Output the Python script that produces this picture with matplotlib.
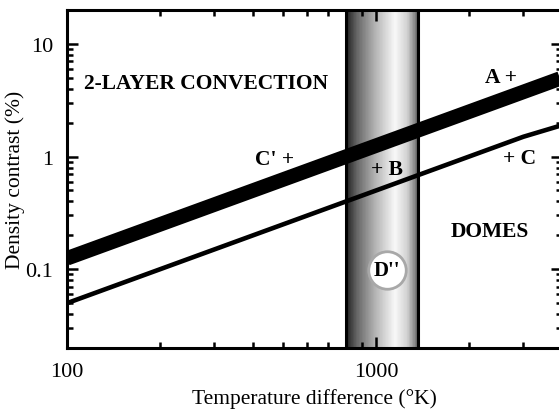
import numpy as np
import matplotlib
matplotlib.use("Agg")
from matplotlib import pyplot as plt
from matplotlib import ticker

plt.rcParams['font.family'] = ['Liberation Serif', 'DejaVu Serif']

# thick band (2-layer / domes boundary) and thin line
temp_thick = [100, 4000]
contrast_thick = [0.125, 5.0]
temp_thin = [100, 3000, 4000]
contrast_thin = [0.05, 1.5, 1.9]
# D'' temperature range
dpp_range = [800, 1370]

fig = plt.figure(figsize=(5.59, 4.10), dpi=100)
ax = fig.add_axes([67/559, 61/410, 495/559, 338/410])
ax.set_xscale('log')
ax.set_yscale('log')
ax.set_xlim(100, 4000)
ax.set_ylim(0.02, 20)

# shaded D'' band: dark edge on the left, light at ~70%, darker again at right
xe = np.geomspace(dpp_range[0], dpp_range[1], 121)
t = np.linspace(0, 1, 120)
shade = np.interp(t, [0, 0.04, 0.15, 0.4, 0.68, 0.85, 0.95, 1.0],
                  [0.05, 0.2, 0.4, 0.7, 0.97, 0.82, 0.55, 0.35])
ax.pcolormesh(xe, [0.02, 20], shade[None, :], cmap='gray', vmin=0, vmax=1,
              shading='flat', zorder=1)
for xv in dpp_range:
    ax.axvline(xv, color='black', lw=2.2, zorder=2)

ax.plot(temp_thick, contrast_thick, color='black', lw=10.5, solid_capstyle='butt', zorder=3)
ax.plot(temp_thin, contrast_thin, color='black', lw=3.3, solid_capstyle='butt', zorder=3)

# D'' marker
ax.plot([1087], [0.099], marker='o', ms=27, mfc='white', mec='#a8a8a8', mew=2, zorder=4)
ax.text(1087, 0.099, "D''", ha='center', va='center', fontsize=15, fontweight='bold', zorder=5)

bold = dict(fontsize=15.5, fontweight='bold', ha='center', va='center', zorder=5)
ax.text(282, 4.5, '2-LAYER CONVECTION', **bold)
ax.text(2540, 5.1, 'A +', **bold)
ax.text(471, 0.96, "C' +", **bold)
ax.text(1087, 0.78, '+ B', **bold)
ax.text(2924, 0.97, '+ C', **bold)
ax.text(2339, 0.22, 'DOMES', **bold)

ax.set_xticks([100, 1000])
ax.set_xticklabels(['100', '1000'])
ax.set_yticks([0.1, 1, 10])
ax.set_yticklabels(['0.1', '1', '10'])
ax.xaxis.set_minor_locator(ticker.LogLocator(subs=np.arange(2, 10)))
ax.yaxis.set_minor_locator(ticker.LogLocator(subs=np.arange(2, 10)))
ax.xaxis.set_minor_formatter(ticker.NullFormatter())
ax.yaxis.set_minor_formatter(ticker.NullFormatter())
ax.tick_params(which='both', direction='in', top=True, right=True, width=1.8, labelsize=16)
ax.tick_params(which='major', length=8, pad=10)
ax.tick_params(which='minor', length=4.5)
for s in ax.spines.values():
    s.set_linewidth(2.2)

ax.set_xlabel('Temperature difference (°K)', fontsize=15.5, labelpad=5)
ax.set_ylabel('Density contrast (%)', fontsize=15.5, labelpad=0)

plt.savefig('out.png', dpi=100)
